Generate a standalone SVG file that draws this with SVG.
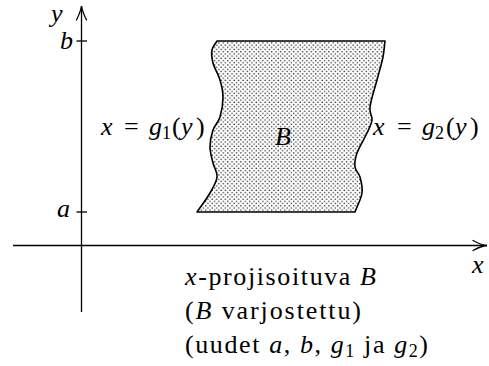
<svg xmlns="http://www.w3.org/2000/svg" width="489" height="366" viewBox="0 0 489 366">
<defs>
<pattern id="dots" width="4.4" height="4.4" patternUnits="userSpaceOnUse">
<circle cx="1.1" cy="1.1" r="0.75" fill="#222"/>
<circle cx="3.3" cy="3.3" r="0.75" fill="#222"/>
</pattern>
</defs>
<rect width="489" height="366" fill="#fff"/>
<g id="axes" stroke="#000" stroke-width="1.3" fill="none">
<line x1="81.5" y1="312" x2="81.5" y2="6"/>
<path stroke-linecap="round" d="M76.5,20 Q80.5,12 81.5,6 Q82.5,12 86.5,20"/>
<line x1="13" y1="245.5" x2="487" y2="245.5"/>
<path stroke-linecap="round" d="M473,240.5 Q481,245 487,245.5 Q481,246 473,250.5"/>
<line x1="76.5" y1="41" x2="87" y2="41"/>
<line x1="76.5" y1="212" x2="87" y2="212"/>
</g>
<g id="axislabels">
<text font-family="Liberation Serif" font-size="26" font-style="italic" x="51" y="22">y</text>
<text font-family="Liberation Serif" font-size="26" font-style="italic" x="60" y="49">b</text>
<text font-family="Liberation Serif" font-size="26" font-style="italic" x="57" y="217">a</text>
<text font-family="Liberation Serif" font-size="26" font-style="italic" x="472" y="273">x</text>
</g>
<g id="regionB">
<path fill="url(#dots)" stroke="#000" stroke-width="1.6" stroke-linejoin="round" d="M197,212 L355,212 C357.3,205.7 361.2,198.8 362,193 C362.8,187.2 361.2,181.3 360,177 C358.8,172.7 355.5,171 355,167 C354.5,163 355,158.7 357,153 C359,147.3 364.5,138.5 367,133 C369.5,127.5 371.5,124.3 372,120 C372.5,115.7 369.2,113.7 370,107 C370.8,100.3 374.8,88.3 377,80 C379.2,71.7 381.7,63.5 383,57 C384.3,50.5 384.3,46.3 385,41 L217,41 C215.3,44 212.7,46.3 212,50 C211.3,53.7 211.7,58 213,63 C214.3,68 218.3,74.3 220,80 C221.7,85.7 223,90.8 223,97 C223,103.2 221.7,111.5 220,117 C218.3,122.5 214.7,125 213,130 C211.3,135 210,141.5 210,147 C210,152.5 211.8,158 213,163 C214.2,168 217.5,172 217,177 C216.5,182 213.3,187.2 210,193 C206.7,198.8 201.3,205.7 197,212 Z"/>
<text font-family="Liberation Serif" font-size="26" font-style="italic" x="275" y="145">B</text>
</g>
<g id="labels">
<text font-family="Liberation Serif" font-size="26" y="135"><tspan font-style="italic" x="101">x</tspan><tspan x="124">=</tspan><tspan font-style="italic" x="149">g</tspan><tspan font-size="18" x="162" dy="4">1</tspan><tspan x="172" dy="-4">(</tspan><tspan font-style="italic" x="181">y</tspan><tspan x="196">)</tspan></text>
<text font-family="Liberation Serif" font-size="26" y="135"><tspan font-style="italic" x="373">x</tspan><tspan x="397">=</tspan><tspan font-style="italic" x="422">g</tspan><tspan font-size="18" x="435" dy="4">2</tspan><tspan x="446" dy="-4">(</tspan><tspan font-style="italic" x="455">y</tspan><tspan x="470">)</tspan></text>
</g>
<g id="caption">
<text font-family="Liberation Serif" font-size="26" x="185" y="285" textLength="191" lengthAdjust="spacing"><tspan font-style="italic">x</tspan>-projisoituva <tspan font-style="italic">B</tspan></text>
<text font-family="Liberation Serif" font-size="26" x="185" y="319" textLength="176" lengthAdjust="spacing">(<tspan font-style="italic">B</tspan> varjostettu)</text>
<text font-family="Liberation Serif" font-size="26" x="185" y="353" textLength="243" lengthAdjust="spacing">(uudet <tspan font-style="italic">a</tspan>, <tspan font-style="italic">b</tspan>, <tspan font-style="italic">g</tspan><tspan font-size="18" dy="4">1</tspan><tspan dy="-4"> ja </tspan><tspan font-style="italic">g</tspan><tspan font-size="18" dy="4">2</tspan><tspan dy="-4">)</tspan></text>
</g>
</svg>
